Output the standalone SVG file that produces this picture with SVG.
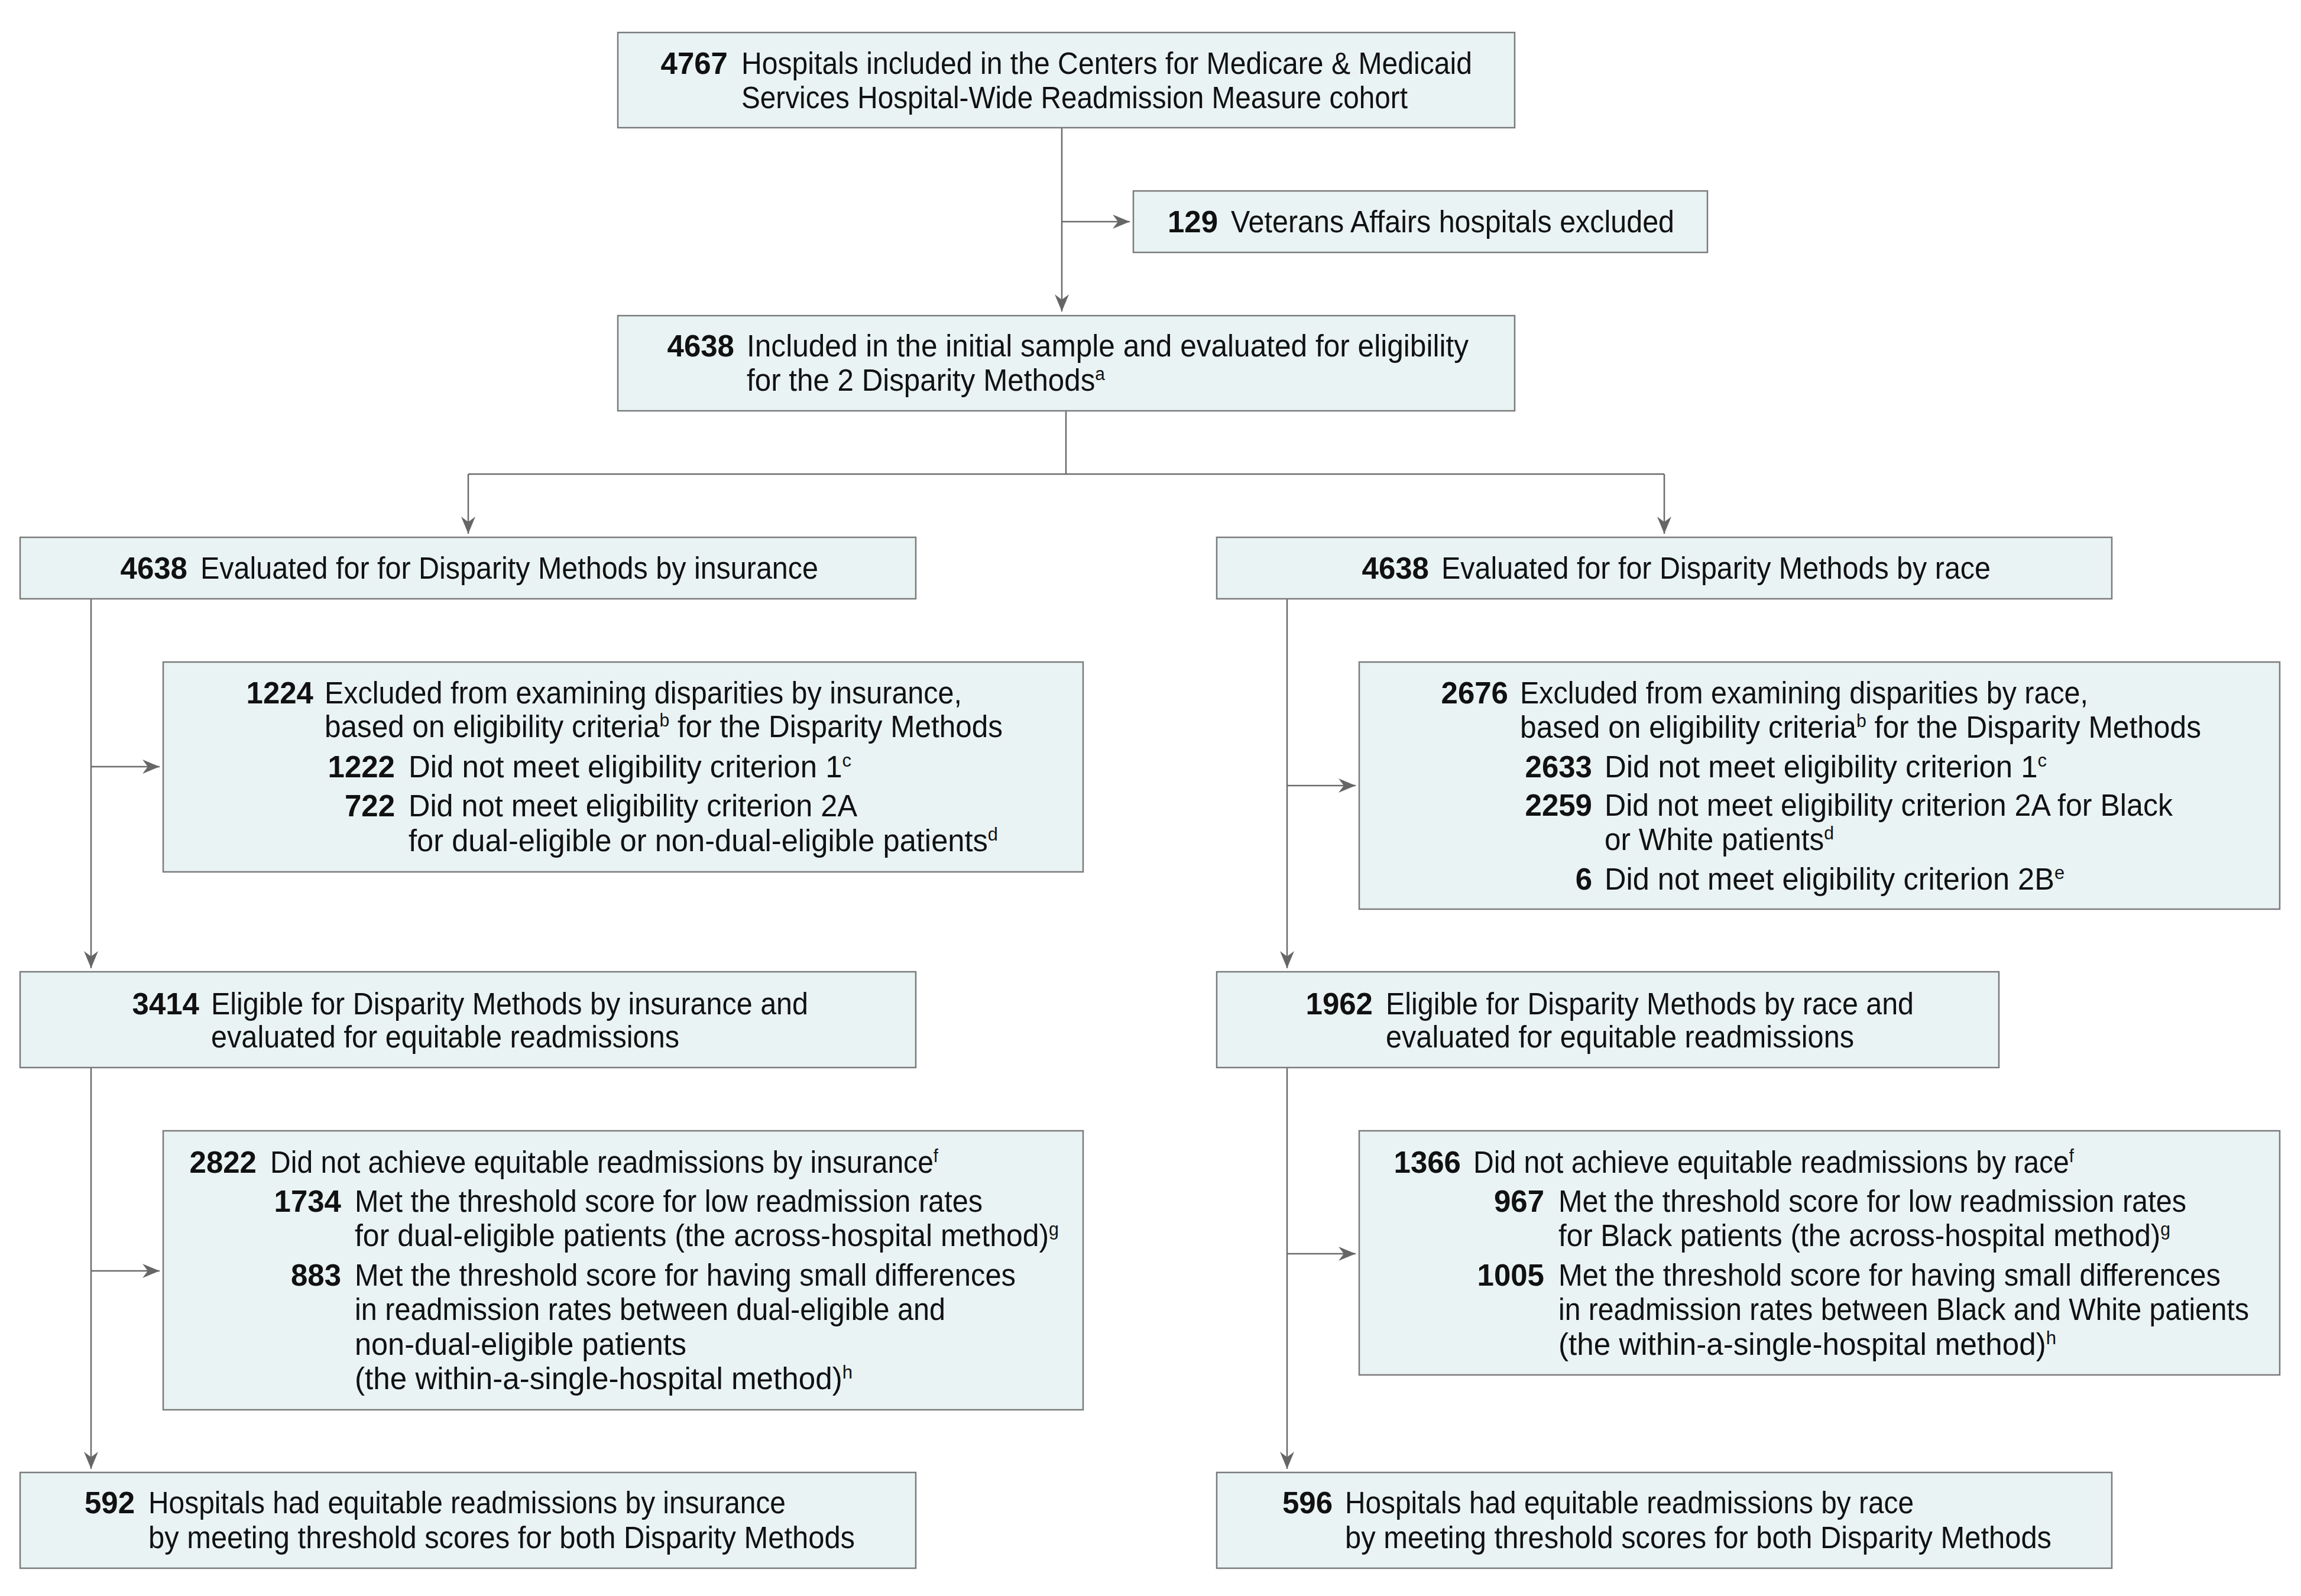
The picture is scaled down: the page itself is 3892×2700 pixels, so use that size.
<svg xmlns="http://www.w3.org/2000/svg" width="3892" height="2700" viewBox="0 0 3892 2700">
<style>
.box{fill:#e9f3f4;stroke:#7b7b7b;stroke-width:2.5}
.t{font-family:"Liberation Sans",Arial,sans-serif;font-size:51px;fill:#111}
.n{font-weight:700;text-anchor:end}
.s{font-size:31px}
.c{fill:none;stroke:#6b6b6b;stroke-width:2.5}
</style>
<defs>
<marker id="ah" markerUnits="userSpaceOnUse" markerWidth="30" markerHeight="26" viewBox="0 -13 30 26" refX="29" refY="0" orient="auto">
<path d="M0,-12 L29,0 L0,12 L9,0 Z" fill="#666"/>
</marker>
</defs>
<rect width="3892" height="2700" fill="#fff"/>

<g id="connectors">
<path class="c" d="M1796 216 V527" marker-end="url(#ah)"/>
<path class="c" d="M1796 375 H1911" marker-end="url(#ah)"/>
<path class="c" d="M1803 695 V802 M792 802 H2815"/>
<path class="c" d="M792 802 V903" marker-end="url(#ah)"/>
<path class="c" d="M2815 802 V903" marker-end="url(#ah)"/>
<path class="c" d="M154 1013 V1638" marker-end="url(#ah)"/>
<path class="c" d="M154 1297 H270" marker-end="url(#ah)"/>
<path class="c" d="M154 1806 V2485" marker-end="url(#ah)"/>
<path class="c" d="M154 2150 H270" marker-end="url(#ah)"/>
<path class="c" d="M2177 1013 V1638" marker-end="url(#ah)"/>
<path class="c" d="M2177 1329 H2293" marker-end="url(#ah)"/>
<path class="c" d="M2177 1806 V2485" marker-end="url(#ah)"/>
<path class="c" d="M2177 2121 H2293" marker-end="url(#ah)"/>
</g>

<g id="n4767">
<rect class="box" x="1045" y="55" width="1517" height="161"/>
<text class="t n" x="1231" y="125">4767</text>
<text class="t" x="1254" y="125" textLength="1236" lengthAdjust="spacingAndGlyphs">Hospitals included in the Centers for Medicare &amp; Medicaid</text>
<text class="t" x="1254" y="183" textLength="1127" lengthAdjust="spacingAndGlyphs">Services Hospital-Wide Readmission Measure cohort</text>
</g>

<g id="n129">
<rect class="box" x="1917" y="323" width="971" height="104"/>
<text class="t n" x="2060" y="393">129</text>
<text class="t" x="2082" y="393" textLength="750" lengthAdjust="spacingAndGlyphs">Veterans Affairs hospitals excluded</text>
</g>

<g id="n4638">
<rect class="box" x="1045" y="534" width="1517" height="161"/>
<text class="t n" x="1242" y="603">4638</text>
<text class="t" x="1263" y="603" textLength="1221" lengthAdjust="spacingAndGlyphs">Included in the initial sample and evaluated for eligibility</text>
<text class="t" x="1263" y="661" textLength="606" lengthAdjust="spacingAndGlyphs">for the 2 Disparity Methods<tspan class="s" dy="-18">a</tspan></text>
</g>

<g id="nInsEval">
<rect class="box" x="34" y="909" width="1515" height="104"/>
<text class="t n" x="317" y="979">4638</text>
<text class="t" x="339" y="979" textLength="1045" lengthAdjust="spacingAndGlyphs">Evaluated for for Disparity Methods by insurance</text>
</g>

<g id="nRaceEval">
<rect class="box" x="2058" y="909" width="1514" height="104"/>
<text class="t n" x="2417" y="979">4638</text>
<text class="t" x="2438" y="979" textLength="929" lengthAdjust="spacingAndGlyphs">Evaluated for for Disparity Methods by race</text>
</g>

<g id="nInsExcl">
<rect class="box" x="276" y="1120" width="1556" height="355"/>
<text class="t n" x="530" y="1190">1224</text>
<text class="t" x="549" y="1190" textLength="1078" lengthAdjust="spacingAndGlyphs">Excluded from examining disparities by insurance,</text>
<text class="t" x="549" y="1247" textLength="1147" lengthAdjust="spacingAndGlyphs">based on eligibility criteria<tspan class="s" dy="-18">b</tspan><tspan dy="18"> for the Disparity Methods</tspan></text>
<text class="t n" x="668" y="1315">1222</text>
<text class="t" x="691" y="1315" textLength="749" lengthAdjust="spacingAndGlyphs">Did not meet eligibility criterion 1<tspan class="s" dy="-18">c</tspan></text>
<text class="t n" x="668" y="1381">722</text>
<text class="t" x="691" y="1381" textLength="759" lengthAdjust="spacingAndGlyphs">Did not meet eligibility criterion 2A</text>
<text class="t" x="691" y="1440" textLength="997" lengthAdjust="spacingAndGlyphs">for dual-eligible or non-dual-eligible patients<tspan class="s" dy="-18">d</tspan></text>
</g>

<g id="nRaceExcl">
<rect class="box" x="2299" y="1120" width="1557" height="418"/>
<text class="t n" x="2551" y="1190">2676</text>
<text class="t" x="2571" y="1190" textLength="961" lengthAdjust="spacingAndGlyphs">Excluded from examining disparities by race,</text>
<text class="t" x="2571" y="1248" textLength="1152" lengthAdjust="spacingAndGlyphs">based on eligibility criteria<tspan class="s" dy="-18">b</tspan><tspan dy="18"> for the Disparity Methods</tspan></text>
<text class="t n" x="2693" y="1315">2633</text>
<text class="t" x="2714" y="1315" textLength="748" lengthAdjust="spacingAndGlyphs">Did not meet eligibility criterion 1<tspan class="s" dy="-18">c</tspan></text>
<text class="t n" x="2693" y="1380">2259</text>
<text class="t" x="2714" y="1380" textLength="961" lengthAdjust="spacingAndGlyphs">Did not meet eligibility criterion 2A for Black</text>
<text class="t" x="2714" y="1438" textLength="388" lengthAdjust="spacingAndGlyphs">or White patients<tspan class="s" dy="-18">d</tspan></text>
<text class="t n" x="2693" y="1505">6</text>
<text class="t" x="2714" y="1505" textLength="778" lengthAdjust="spacingAndGlyphs">Did not meet eligibility criterion 2B<tspan class="s" dy="-18">e</tspan></text>
</g>

<g id="nInsElig">
<rect class="box" x="34" y="1644" width="1515" height="162"/>
<text class="t n" x="337" y="1716">3414</text>
<text class="t" x="357" y="1716" textLength="1010" lengthAdjust="spacingAndGlyphs">Eligible for Disparity Methods by insurance and</text>
<text class="t" x="357" y="1772" textLength="792" lengthAdjust="spacingAndGlyphs">evaluated for equitable readmissions</text>
</g>

<g id="nRaceElig">
<rect class="box" x="2058" y="1644" width="1323" height="162"/>
<text class="t n" x="2322" y="1716">1962</text>
<text class="t" x="2344" y="1716" textLength="893" lengthAdjust="spacingAndGlyphs">Eligible for Disparity Methods by race and</text>
<text class="t" x="2344" y="1772" textLength="792" lengthAdjust="spacingAndGlyphs">evaluated for equitable readmissions</text>
</g>

<g id="nInsNot">
<rect class="box" x="276" y="1913" width="1556" height="472"/>
<text class="t n" x="434" y="1984">2822</text>
<text class="t" x="457" y="1984" textLength="1130" lengthAdjust="spacingAndGlyphs">Did not achieve equitable readmissions by insurance<tspan class="s" dy="-18">f</tspan></text>
<text class="t n" x="577" y="2050">1734</text>
<text class="t" x="600" y="2050" textLength="1062" lengthAdjust="spacingAndGlyphs">Met the threshold score for low readmission rates</text>
<text class="t" x="600" y="2108" textLength="1191" lengthAdjust="spacingAndGlyphs">for dual-eligible patients (the across-hospital method)<tspan class="s" dy="-18">g</tspan></text>
<text class="t n" x="577" y="2175">883</text>
<text class="t" x="600" y="2175" textLength="1118" lengthAdjust="spacingAndGlyphs">Met the threshold score for having small differences</text>
<text class="t" x="600" y="2233" textLength="999" lengthAdjust="spacingAndGlyphs">in readmission rates between dual-eligible and</text>
<text class="t" x="600" y="2292" textLength="561" lengthAdjust="spacingAndGlyphs">non-dual-eligible patients</text>
<text class="t" x="600" y="2350" textLength="842" lengthAdjust="spacingAndGlyphs">(the within-a-single-hospital method)<tspan class="s" dy="-18">h</tspan></text>
</g>

<g id="nRaceNot">
<rect class="box" x="2299" y="1913" width="1557" height="413"/>
<text class="t n" x="2471" y="1984">1366</text>
<text class="t" x="2492" y="1984" textLength="1016" lengthAdjust="spacingAndGlyphs">Did not achieve equitable readmissions by race<tspan class="s" dy="-18">f</tspan></text>
<text class="t n" x="2612" y="2050">967</text>
<text class="t" x="2636" y="2050" textLength="1062" lengthAdjust="spacingAndGlyphs">Met the threshold score for low readmission rates</text>
<text class="t" x="2636" y="2108" textLength="1035" lengthAdjust="spacingAndGlyphs">for Black patients (the across-hospital method)<tspan class="s" dy="-18">g</tspan></text>
<text class="t n" x="2612" y="2175">1005</text>
<text class="t" x="2636" y="2175" textLength="1120" lengthAdjust="spacingAndGlyphs">Met the threshold score for having small differences</text>
<text class="t" x="2636" y="2233" textLength="1168" lengthAdjust="spacingAndGlyphs">in readmission rates between Black and White patients</text>
<text class="t" x="2636" y="2292" textLength="842" lengthAdjust="spacingAndGlyphs">(the within-a-single-hospital method)<tspan class="s" dy="-18">h</tspan></text>
</g>

<g id="nIns592">
<rect class="box" x="34" y="2491" width="1515" height="162"/>
<text class="t n" x="228" y="2560">592</text>
<text class="t" x="251" y="2560" textLength="1078" lengthAdjust="spacingAndGlyphs">Hospitals had equitable readmissions by insurance</text>
<text class="t" x="251" y="2619" textLength="1195" lengthAdjust="spacingAndGlyphs">by meeting threshold scores for both Disparity Methods</text>
</g>

<g id="nRace596">
<rect class="box" x="2058" y="2491" width="1514" height="162"/>
<text class="t n" x="2254" y="2560">596</text>
<text class="t" x="2275" y="2560" textLength="962" lengthAdjust="spacingAndGlyphs">Hospitals had equitable readmissions by race</text>
<text class="t" x="2275" y="2619" textLength="1195" lengthAdjust="spacingAndGlyphs">by meeting threshold scores for both Disparity Methods</text>
</g>
</svg>
